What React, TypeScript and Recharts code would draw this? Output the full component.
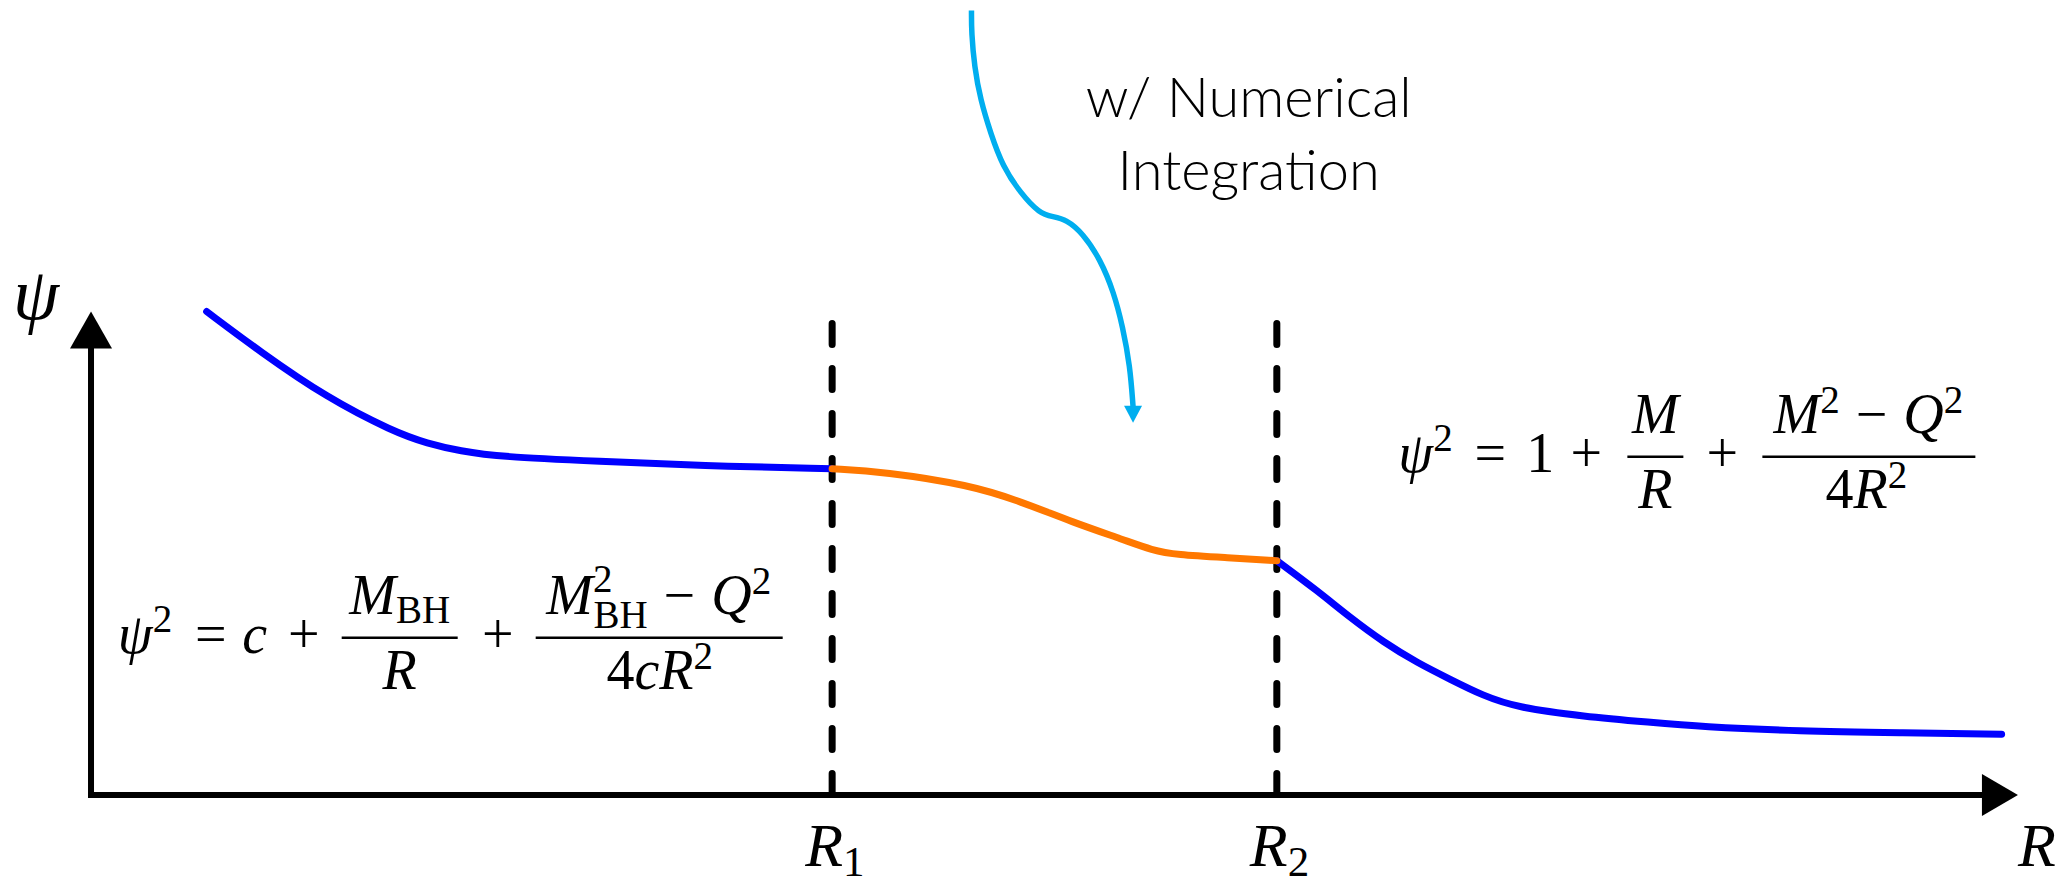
import React from "react";
import { LineChart, Line, XAxis, YAxis, ReferenceLine, ReferenceDot } from "recharts";

// boundaries of the numerically integrated shell
const R1 = 5;
const R2 = 8;

// axis extents (arrow tips)
const X_END = 13;
const Y_END = 3.26;

// inner solution, psi^2 = c + M_BH/R + ..., from the left edge up to R1
const innerBranch = [
  { x: 0.78, y: 3.26 },
  { x: 1.14, y: 2.99 },
  { x: 1.59, y: 2.68 },
  { x: 2.04, y: 2.45 },
  { x: 2.27, y: 2.37 },
  { x: 2.49, y: 2.32 },
  { x: 2.76, y: 2.28 },
  { x: 3.43, y: 2.25 },
  { x: 4.11, y: 2.22 },
  { x: 5.0, y: 2.2 },
];

// numerical integration between R1 and R2
const shellBranch = [
  { x: 5.0, y: 2.2 },
  { x: 5.35, y: 2.18 },
  { x: 5.93, y: 2.09 },
  { x: 6.27, y: 1.98 },
  { x: 6.62, y: 1.84 },
  { x: 6.97, y: 1.72 },
  { x: 7.16, y: 1.65 },
  { x: 7.32, y: 1.62 },
  { x: 7.67, y: 1.6 },
  { x: 8.0, y: 1.58 },
];

// outer solution, psi^2 = 1 + M/R + ..., beyond R2
const outerBranch = [
  { x: 8.0, y: 1.58 },
  { x: 8.27, y: 1.38 },
  { x: 8.49, y: 1.2 },
  { x: 8.72, y: 1.03 },
  { x: 8.95, y: 0.89 },
  { x: 9.17, y: 0.78 },
  { x: 9.39, y: 0.67 },
  { x: 9.62, y: 0.59 },
  { x: 10.07, y: 0.53 },
  { x: 10.52, y: 0.49 },
  { x: 10.86, y: 0.46 },
  { x: 11.53, y: 0.43 },
  { x: 12.2, y: 0.42 },
  { x: 12.89, y: 0.41 },
];

// curly pointer from the top down to the shell curve
const pointerPath = [
  { x: 5.94, y: 5.29 },
  { x: 5.94, y: 5.14 },
  { x: 5.96, y: 4.91 },
  { x: 6.0, y: 4.69 },
  { x: 6.07, y: 4.46 },
  { x: 6.15, y: 4.24 },
  { x: 6.27, y: 4.06 },
  { x: 6.4, y: 3.92 },
  { x: 6.49, y: 3.9 },
  { x: 6.58, y: 3.88 },
  { x: 6.69, y: 3.79 },
  { x: 6.81, y: 3.61 },
  { x: 6.9, y: 3.39 },
  { x: 6.96, y: 3.16 },
  { x: 7.01, y: 2.89 },
  { x: 7.03, y: 2.62 },
];
const pointerTip = { x: 7.03, y: 2.51 };

const boundaryLabels = [
  { x: R1, sub: "1" },
  { x: R2, sub: "2" },
];

const noteLines = ["w/ Numerical", "Integration"];
const noteAt = { x: 7.81, y: 4.57 };
const innerFormulaAt = { x: 0.18, y: 1.06 };
const outerFormulaAt = { x: 8.82, y: 2.28 };

const MATH = "'Liberation Serif', 'DejaVu Serif', serif";
const SANS = "Lato, 'Open Sans', sans-serif";
const BLUE = "#0000ff";
const ORANGE = "#ff7800";
const CYAN = "#00aeef";

const F = 56; // main math size
const S = 39; // script size
const BASE = 15; // baseline below the math axis
const NUM = -24; // numerator baseline
const DEN = 51; // denominator baseline

const InnerFormula = ({ cx, cy }: any) => (
  <g fontFamily={MATH} fontSize={F} fill="#000">
    <text x={cx} y={cy + BASE} fontStyle="italic">ψ</text>
    <text x={cx + 35} y={cy - 6} fontSize={S}>2</text>
    <text x={cx + 93} y={cy + BASE} textAnchor="middle">=</text>
    <text x={cx + 137} y={cy + BASE} textAnchor="middle" fontStyle="italic">c</text>
    <text x={cx + 186} y={cy + BASE} textAnchor="middle">+</text>
    <line x1={cx + 224} x2={cx + 340} y1={cy} y2={cy} stroke="#000" strokeWidth={2.5} />
    <text x={cx + 282} y={cy + NUM} textAnchor="middle">
      <tspan fontStyle="italic">M</tspan>
      <tspan fontSize={S} dy={9}>BH</tspan>
    </text>
    <text x={cx + 282} y={cy + DEN} textAnchor="middle" fontStyle="italic">R</text>
    <text x={cx + 380} y={cy + BASE} textAnchor="middle">+</text>
    <line x1={cx + 418} x2={cx + 665} y1={cy} y2={cy} stroke="#000" strokeWidth={2.5} />
    <text x={cx + 541} y={cy + NUM} textAnchor="middle">
      <tspan fontStyle="italic">M</tspan>
      <tspan fontSize={S} dy={-22}>2</tspan>
      <tspan fontSize={S} dx={-19} dy={36}>BH</tspan>
      <tspan dx={16} dy={-14}>−</tspan>
      <tspan dx={16} fontStyle="italic">Q</tspan>
      <tspan fontSize={S} dy={-20}>2</tspan>
    </text>
    <text x={cx + 542} y={cy + DEN} textAnchor="middle">
      4<tspan fontStyle="italic">cR</tspan>
      <tspan fontSize={S} dy={-20}>2</tspan>
    </text>
  </g>
);

const OuterFormula = ({ cx, cy }: any) => (
  <g fontFamily={MATH} fontSize={F} fill="#000">
    <text x={cx} y={cy + BASE} fontStyle="italic">ψ</text>
    <text x={cx + 35} y={cy - 6} fontSize={S}>2</text>
    <text x={cx + 92} y={cy + BASE} textAnchor="middle">=</text>
    <text x={cx + 142} y={cy + BASE} textAnchor="middle">1</text>
    <text x={cx + 188} y={cy + BASE} textAnchor="middle">+</text>
    <line x1={cx + 229} x2={cx + 285} y1={cy} y2={cy} stroke="#000" strokeWidth={2.5} />
    <text x={cx + 257} y={cy + NUM} textAnchor="middle" fontStyle="italic">M</text>
    <text x={cx + 257} y={cy + DEN} textAnchor="middle" fontStyle="italic">R</text>
    <text x={cx + 324} y={cy + BASE} textAnchor="middle">+</text>
    <line x1={cx + 364} x2={cx + 577} y1={cy} y2={cy} stroke="#000" strokeWidth={2.5} />
    <text x={cx + 470} y={cy + NUM} textAnchor="middle">
      <tspan fontStyle="italic">M</tspan>
      <tspan fontSize={S} dy={-20}>2</tspan>
      <tspan dx={16} dy={20}>−</tspan>
      <tspan dx={16} fontStyle="italic">Q</tspan>
      <tspan fontSize={S} dy={-20}>2</tspan>
    </text>
    <text x={cx + 468} y={cy + DEN} textAnchor="middle">
      4<tspan fontStyle="italic">R</tspan>
      <tspan fontSize={S} dy={-20}>2</tspan>
    </text>
  </g>
);

const Note = ({ cx, cy }: any) => (
  <g fontFamily={SANS} fontSize={56} fontWeight={300} fill="#000" textAnchor="middle">
    {noteLines.map((line, i) => (
      <text key={line} x={cx} y={cy + i * 73}>
        {line}
      </text>
    ))}
  </g>
);

const XArrow = ({ cx, cy }: any) => (
  <polygon points={`${cx},${cy} ${cx - 36},${cy - 21} ${cx - 36},${cy + 21}`} fill="#000" />
);

const YArrow = ({ cx, cy }: any) => (
  <g>
    <polygon points={`${cx},${cy} ${cx - 21},${cy + 37} ${cx + 21},${cy + 37}`} fill="#000" />
    <text x={cx - 55} y={cy + 7} textAnchor="middle" fontFamily={MATH} fontStyle="italic" fontSize={74}>
      ψ
    </text>
  </g>
);

const PointerHead = ({ cx, cy }: any) => (
  <polygon points={`${cx},${cy} ${cx - 9},${cy - 17} ${cx + 9},${cy - 17}`} fill={CYAN} />
);

const boundaryLabel = (sub: string) => ({ cx, cy }: any) => (
  <text x={cx - 27} y={cy + 71} fontFamily={MATH} fontSize={62}>
    <tspan fontStyle="italic">R</tspan>
    <tspan fontSize={43} dy={10}>{sub}</tspan>
  </text>
);

const AxisName = ({ cx, cy }: any) => (
  <text x={cx} y={cy + 71} fontFamily={MATH} fontStyle="italic" fontSize={62}>
    R
  </text>
);

export default function App() {
  return (
    <div style={{ position: "absolute", left: 0, top: 0, background: "#fff" }}>
      <LineChart width={2070} height={876} margin={{ top: 9, right: 22.4, bottom: 6.85, left: 16.9 }}>
        <XAxis type="number" dataKey="x" domain={[-0.5, 13.2]} allowDataOverflow hide />
        <YAxis type="number" dataKey="y" domain={[-0.5, 5.3]} allowDataOverflow hide />

        {/* axes */}
        <ReferenceLine
          segment={[{ x: 0, y: 0 }, { x: 12.8, y: 0 }]}
          stroke="#000"
          strokeWidth={6}
          strokeLinecap="square"
          ifOverflow="visible"
        />
        <ReferenceLine
          segment={[{ x: 0, y: 0 }, { x: 0, y: 3.0 }]}
          stroke="#000"
          strokeWidth={6}
          strokeLinecap="square"
          ifOverflow="visible"
        />
        <ReferenceDot x={X_END} y={0} ifOverflow="visible" shape={XArrow} />
        <ReferenceDot x={0} y={Y_END} ifOverflow="visible" shape={YArrow} />
        <ReferenceDot x={X_END} y={0} ifOverflow="visible" shape={AxisName} />

        {/* shell boundaries */}
        {boundaryLabels.map((b) => (
          <ReferenceLine
            key={`line-${b.sub}`}
            segment={[{ x: b.x, y: 3.18 }, { x: b.x, y: -0.02 }]}
            stroke="#000"
            strokeWidth={7}
            strokeDasharray="21 24"
            strokeLinecap="round"
            ifOverflow="visible"
          />
        ))}
        {boundaryLabels.map((b) => (
          <ReferenceDot key={`label-${b.sub}`} x={b.x} y={0} ifOverflow="visible" shape={boundaryLabel(b.sub)} />
        ))}

        <Line data={innerBranch} dataKey="y" type="basis" stroke={BLUE} strokeWidth={7} strokeLinecap="round" dot={false} activeDot={false} isAnimationActive={false} />
        <Line data={outerBranch} dataKey="y" type="basis" stroke={BLUE} strokeWidth={7} strokeLinecap="round" dot={false} activeDot={false} isAnimationActive={false} />
        <Line data={shellBranch} dataKey="y" type="basis" stroke={ORANGE} strokeWidth={7} strokeLinecap="round" dot={false} activeDot={false} isAnimationActive={false} />
        <Line data={pointerPath} dataKey="y" type="basis" stroke={CYAN} strokeWidth={5.5} dot={false} activeDot={false} isAnimationActive={false} />
        <ReferenceDot x={pointerTip.x} y={pointerTip.y} ifOverflow="visible" shape={PointerHead} />

        <ReferenceDot x={noteAt.x} y={noteAt.y} ifOverflow="visible" shape={Note} />
        <ReferenceDot x={innerFormulaAt.x} y={innerFormulaAt.y} ifOverflow="visible" shape={InnerFormula} />
        <ReferenceDot x={outerFormulaAt.x} y={outerFormulaAt.y} ifOverflow="visible" shape={OuterFormula} />
      </LineChart>
    </div>
  );
}
